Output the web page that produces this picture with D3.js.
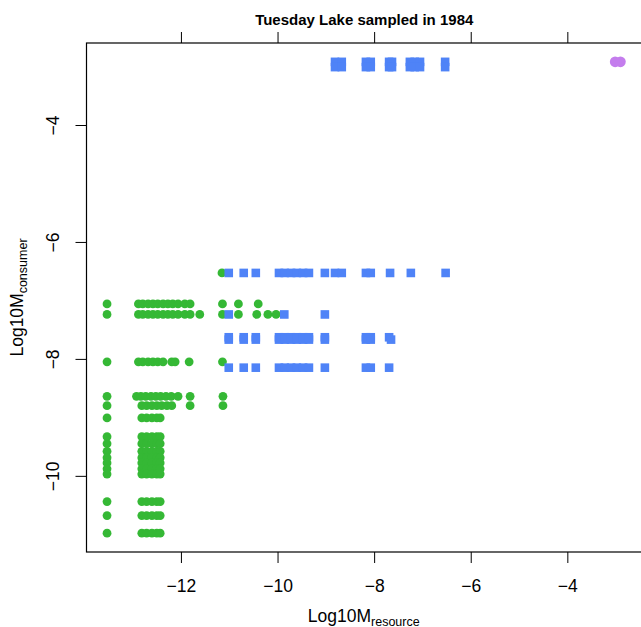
<!DOCTYPE html>
<html><head><meta charset="utf-8">
<script src="https://cdn.jsdelivr.net/npm/d3@7"></script>
<style>body{margin:0;background:#fff}svg{display:block}text{font-family:"Liberation Sans",Arial,sans-serif}</style>
</head><body>
<svg id="c" width="641" height="627"></svg>
<script>
// ---- data (log10 body mass) ----
const xTicks = [-12, -10, -8, -6, -4];
const yTicks = [-10, -8, -6, -4];
const titleText = "Tuesday Lake sampled in 1984";

// producer resources (green): consumer level per row, resource masses per row
const greenConsumer = [-6.53, -7.06, -7.24, -8.05, -8.64, -8.80, -9.01, -9.33, -9.45, -9.58, -9.69, -9.78, -9.88, -9.97, -10.44, -10.68, -10.98];
const greenResource = [
  [-11.15],
  [-13.53, -12.88, -12.79, -12.68, -12.58, -12.48, -12.37, -12.27, -12.17, -12.06, -11.92, -11.81, -11.14, -10.81, -10.40],
  [-13.53, -12.88, -12.79, -12.68, -12.58, -12.48, -12.37, -12.27, -12.17, -12.06, -11.92, -11.81, -11.61, -11.14, -10.81, -10.43, -10.20, -10.03],
  [-13.53, -12.88, -12.79, -12.68, -12.58, -12.48, -12.37, -12.19, -12.12, -11.83, -11.14],
  [-13.53, -12.92, -12.83, -12.73, -12.62, -12.52, -12.42, -12.31, -12.20, -12.06, -11.81, -11.13],
  [-13.53, -12.81, -12.71, -12.60, -12.50, -12.40, -12.29, -12.19, -11.81, -11.13],
  [-13.53, -12.81, -12.71, -12.60, -12.50, -12.43],
  [-13.53, -12.81, -12.71, -12.60, -12.50, -12.43],
  [-13.53, -12.81, -12.71, -12.60, -12.50, -12.43],
  [-13.53, -12.81, -12.71, -12.60, -12.50, -12.43],
  [-13.53, -12.81, -12.71, -12.60, -12.50, -12.43],
  [-13.53, -12.81, -12.71, -12.60, -12.50, -12.43],
  [-13.53, -12.81, -12.71, -12.60, -12.50, -12.43],
  [-13.53, -12.81, -12.71, -12.60, -12.50, -12.43],
  [-13.53, -12.81, -12.71, -12.60, -12.50, -12.43],
  [-13.53, -12.81, -12.71, -12.60, -12.50, -12.43],
  [-13.53, -12.81, -12.71, -12.60, -12.50, -12.43]
];

// zooplankton resources (blue squares)
const blueConsumer = [-2.92, -3.01, -6.53, -7.24, -7.63, -7.67, -8.15];
const blueResource = [
  [-8.81, -8.67, -8.17, -8.07, -7.69, -7.63, -7.26, -7.16, -7.05, -6.53],
  [-8.81, -8.67, -8.17, -8.07, -7.69, -7.63, -7.26, -7.16, -7.05, -6.53],
  [-11.01, -10.70, -10.45, -9.97, -9.85, -9.72, -9.60, -9.47, -9.35, -9.02, -8.81, -8.67, -8.17, -8.07, -7.67, -7.24, -6.52],
  [-11.01, -9.86, -9.02],
  [-11.01, -10.70, -10.45, -9.97, -9.85, -9.72, -9.60, -9.47, -9.35, -9.02, -8.17, -8.07, -7.69],
  [-11.01, -10.70, -10.45, -9.97, -9.85, -9.72, -9.60, -9.47, -9.35, -9.02, -8.17, -8.07, -7.65],
  [-11.01, -10.70, -10.45, -9.97, -9.85, -9.72, -9.60, -9.47, -9.35, -9.02, -8.17, -8.07, -7.69]
];

// fish resources (purple)
const purpleConsumer = [-2.92, -2.92];
const purpleResource = [-3.01, -2.90];

// ---- build points ----
const green = greenConsumer.flatMap((c, i) => greenResource[i].map(r => ({x: r, y: c})));
const blue = blueConsumer.flatMap((c, i) => blueResource[i].map(r => ({x: r, y: c})));
const purple = purpleConsumer.map((c, i) => ({x: purpleResource[i], y: c}));
const all = green.concat(blue, purple);

// R-style 4% padding
function pad(ext) { const d = (ext[1] - ext[0]) * 0.04; return [ext[0] - d, ext[1] + d]; }
const xDom = pad(d3.extent(all, d => d.x));
const yDom = pad(d3.extent(all, d => d.y));

const L = 86.5, R = 641, T = 43, B = 552;
const x = d3.scaleLinear().domain(xDom).range([L, R]);
const y = d3.scaleLinear().domain(yDom).range([B, T]);

const svg = d3.select("#c");
const fmt = d => (d < 0 ? "\u2212" + Math.abs(d) : "" + d);

// points
const g = svg.append("g");
g.selectAll("circle.g").data(green).join("circle").attr("class", "g")
  .attr("cx", d => x(d.x)).attr("cy", d => y(d.y)).attr("r", 4.4).attr("fill", "#35b835");
const sq = 8.6;
g.selectAll("rect.b").data(blue).join("rect").attr("class", "b")
  .attr("x", d => x(d.x) - sq / 2).attr("y", d => y(d.y) - sq / 2)
  .attr("width", sq).attr("height", sq).attr("fill", "#4f83f7");
g.selectAll("circle.p").data(purple).join("circle").attr("class", "p")
  .attr("cx", d => x(d.x)).attr("cy", d => y(d.y)).attr("r", 5.3).attr("fill", "#c47ded");

// axes
const tl = 11;
const axBottom = svg.append("g").attr("transform", `translate(0,${B})`)
  .call(d3.axisBottom(x).tickValues(xTicks).tickSize(tl).tickSizeOuter(0).tickFormat(fmt));
axBottom.select(".domain").remove();
axBottom.selectAll("text").attr("font-size", 17.5).attr("dy", null).attr("y", 40).attr("fill", "#000");
const axTop = svg.append("g").attr("transform", `translate(0,${T})`)
  .call(d3.axisTop(x).tickValues(xTicks).tickSize(tl).tickSizeOuter(0).tickFormat(""));
axTop.select(".domain").remove();
const axLeft = svg.append("g").attr("transform", `translate(${L},0)`)
  .call(d3.axisLeft(y).tickValues(yTicks).tickSize(tl).tickSizeOuter(0).tickFormat(fmt));
axLeft.select(".domain").remove();
axLeft.selectAll("text").attr("font-size", 17.5).attr("dy", null).attr("x", null)
  .attr("text-anchor", "middle")
  .attr("transform", "translate(-28,0) rotate(-90)").attr("fill", "#000");
svg.selectAll(".tick line").attr("stroke", "#000");

// frame
svg.append("rect").attr("x", L).attr("y", T).attr("width", R + 5 - L).attr("height", B - T)
  .attr("fill", "none").attr("stroke", "#000").attr("stroke-width", 1.2);

// title
svg.append("text").attr("x", (L + R) / 2 + 0.5).attr("y", 25).attr("text-anchor", "middle")
  .attr("font-size", 15).attr("font-weight", "bold").text(titleText);

// x label
const xl = svg.append("text").attr("x", (L + R) / 2).attr("y", 621.5).attr("text-anchor", "middle").attr("font-size", 17.5);
xl.append("tspan").text("Log10M");
xl.append("tspan").attr("font-size", 12.5).attr("dy", 4).text("resource");

// y label
const yl = svg.append("text").attr("transform", `translate(23,${(T + B) / 2}) rotate(-90)`)
  .attr("text-anchor", "middle").attr("font-size", 17.5);
yl.append("tspan").text("Log10M");
yl.append("tspan").attr("font-size", 12.5).attr("dy", 4).text("consumer");
</script>
</body></html>
